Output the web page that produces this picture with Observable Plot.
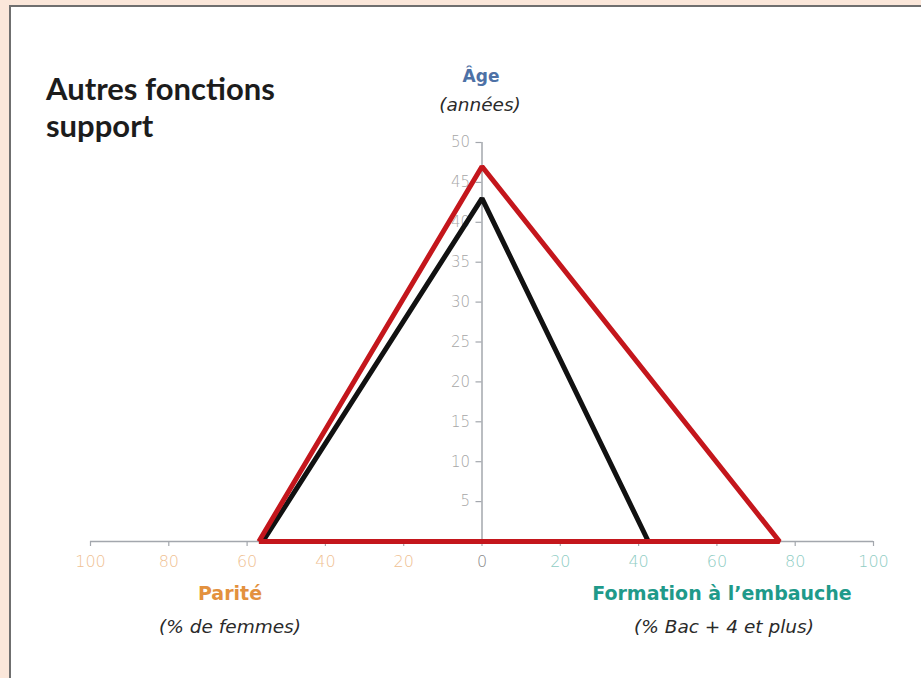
<!DOCTYPE html>
<html><head><meta charset="utf-8">
<script src="https://cdn.jsdelivr.net/npm/d3@7"></script>
<script src="https://cdn.jsdelivr.net/npm/@observablehq/plot@0.6"></script>
<style>
html,body{margin:0;padding:0;}
body{width:921px;height:678px;background:#fbe7da;position:relative;overflow:hidden;font-family:"DejaVu Sans",sans-serif;}
#panel{position:absolute;left:9px;top:5px;right:0;bottom:0;background:#fff;border-left:2px solid #6f6f6f;border-top:2px solid #6f6f6f;}
#chart{position:absolute;left:0;top:0;}
.lbl{position:absolute;transform:translate(-50%,-50%);white-space:nowrap;}
.it{font-family:"DejaVu Sans",sans-serif;font-style:italic;font-size:18.5px;color:#2a2a2a;}
.bd{font-family:"DejaVu Sans",sans-serif;font-weight:700;}
#title{position:absolute;left:46px;top:70px;font-family:Lato,sans-serif;font-size:31px;font-weight:700;line-height:37px;color:#1c1c1c;}
</style></head>
<body>
<div id="panel"></div>
<div id="chart"></div>
<div id="title">Autres fonctions<br>support</div>
<div class="lbl bd" style="left:481px;top:76px;font-size:17px;color:#4d71a6;">Âge</div>
<div class="lbl it" style="left:480px;top:104px;">(années)</div>
<div class="lbl bd" style="left:230px;top:593px;font-size:19px;color:#e3913e;">Parité</div>
<div class="lbl it" style="left:230px;top:626px;">(% de femmes)</div>
<div class="lbl bd" style="left:722px;top:593px;font-size:19px;color:#1f9a8a;">Formation à l’embauche</div>
<div class="lbl it" style="left:724px;top:626px;">(% Bac + 4 et plus)</div>
<script>
// Data
const series = ["Référence", "Autres fonctions support"];
const parite = [56, 57];      // % de femmes
const age = [43, 47];         // années
const formation = [42.5, 76]; // % Bac + 4 et plus
const colors = ["#111111", "#c4161c"];
const xTicks = [-100, -80, -60, -40, -20, 0, 20, 40, 60, 80, 100];
const yTicks = [5, 10, 15, 20, 25, 30, 35, 40, 45, 50];

const pts = [];
series.forEach((s, i) => {
  pts.push({s, x: -parite[i], y: 0});
  pts.push({s, x: 0, y: age[i]});
  pts.push({s, x: formation[i], y: 0});
  pts.push({s, x: -parite[i], y: 0});
});

const gray = "#a3a7ad";
const tickColor = d => d < 0 ? "#efc193" : d > 0 ? "#8fcdc4" : "#8a8a8a";

const chart = Plot.plot({
  width: 921,
  height: 678,
  marginLeft: 90,
  marginRight: 48,
  marginTop: 142,
  marginBottom: 137,
  x: {domain: [-100, 100], axis: null},
  y: {domain: [0, 50], axis: null},
  color: {type: "identity"},
  style: {background: "transparent", fontFamily: "'DejaVu Sans', sans-serif"},
  marks: [
    Plot.ruleY([0], {x1: -100, x2: 100, stroke: gray, strokeWidth: 1.5}),
    Plot.ruleX(xTicks, {x: d => d, y1: 0, y2: 0, insetBottom: -5, stroke: gray, strokeWidth: 1.2}),
    Plot.text(xTicks, {x: d => d, y: 0, dy: 20, text: d => String(Math.abs(d)), fill: tickColor, fontSize: 16, fontWeight: 200, letterSpacing: 1.5}),
    Plot.ruleX([0], {y1: 0, y2: 50, stroke: gray, strokeWidth: 1.5}),
    Plot.ruleY(yTicks, {y: d => d, x1: 0, x2: 0, insetLeft: -6, stroke: gray, strokeWidth: 1.2}),
    Plot.text(yTicks, {x: 0, y: d => d, dx: -12, textAnchor: "end", text: d => String(d), fill: "#a6a6a6", fontSize: 15, fontWeight: 200, letterSpacing: 1}),
    Plot.line(pts, {x: "x", y: "y", z: "s", stroke: d => colors[series.indexOf(d.s)], strokeWidth: 5, strokeLinejoin: "miter", strokeLinecap: "butt"})
  ]
});
document.getElementById("chart").appendChild(chart);
</script>
</body></html>
